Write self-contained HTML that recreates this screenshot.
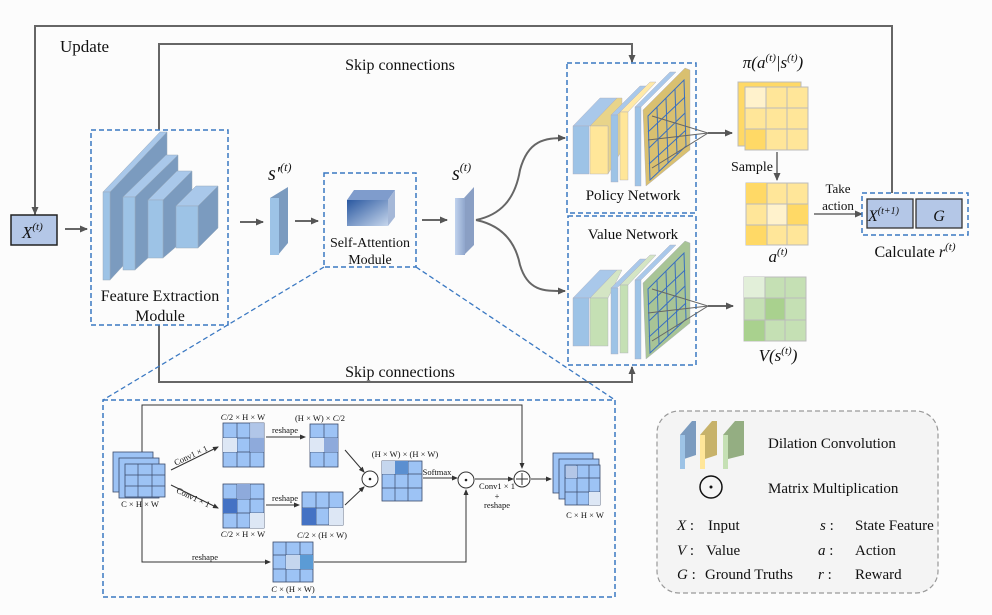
<!DOCTYPE html>
<html><head><meta charset="utf-8"><style>
body{margin:0;background:#fff}
svg{display:block}
text{font-family:"Liberation Serif",serif;fill:#111}
.i{font-style:italic}
</style></head><body>
<svg width="992" height="615" viewBox="0 0 992 615" xmlns="http://www.w3.org/2000/svg">
<defs>
<marker id="a" markerWidth="8" markerHeight="8" refX="7" refY="4" orient="auto" markerUnits="userSpaceOnUse"><path d="M0,0.5 L8,4 L0,7.5 z" fill="#555"/></marker>
<marker id="b" markerWidth="6" markerHeight="6" refX="5" refY="3" orient="auto" markerUnits="userSpaceOnUse"><path d="M0,0.5 L6,3 L0,5.5 z" fill="#333"/></marker>
<linearGradient id="cube" x1="0" y1="0" x2="1" y2="1"><stop offset="0" stop-color="#2a58a0"/><stop offset="1" stop-color="#c6d6ec"/></linearGradient>
<linearGradient id="sl" x1="0" y1="0" x2="1" y2="0"><stop offset="0" stop-color="#c0d2ee"/><stop offset="1" stop-color="#8fa6cc"/></linearGradient>
</defs>
<rect width="992" height="615" fill="#fcfcfc"/>

<polyline points="35,215 35,26 892,26 892,193" fill="none" stroke="#666" stroke-width="2"/>
<line x1="35" y1="40" x2="35" y2="214" stroke="#666" stroke-width="2" marker-end="url(#a)"/>
<text x="60" y="52" font-size="17">Update</text>

<polyline points="159,130 159,44 632,44 632,62" fill="none" stroke="#666" stroke-width="2" marker-end="url(#a)"/>
<text x="400" y="70" font-size="16" text-anchor="middle">Skip connections</text>
<polyline points="159,325 159,382 632,382 632,367" fill="none" stroke="#666" stroke-width="2" marker-end="url(#a)"/>
<text x="400" y="377" font-size="16" text-anchor="middle">Skip connections</text>

<rect x="11" y="215" width="46" height="30" fill="#b4c7e7" stroke="#222" stroke-width="1.5"/>
<text x="22" y="238" font-size="17" class="i">X<tspan font-size="11" dy="-8">(t)</tspan></text>
<line x1="65" y1="229" x2="87" y2="229" stroke="#666" stroke-width="2" marker-end="url(#a)"/>

<rect x="91" y="130" width="137" height="195" fill="none" stroke="#3a78c2" stroke-width="1.5" stroke-dasharray="5,3"/>
<g stroke="#9ab" stroke-width="0.5">
<polygon points="110,192 167,132 167,218 110,280" fill="#7b9bbf"/>
<polygon points="103,192 160,132 167,132 110,192" fill="#a9c8ea"/>
<rect x="103" y="192" width="7" height="88" fill="#9dc3e6"/>
<polygon points="135,197 178,155 178,230 135,270" fill="#7b9bbf"/>
<polygon points="123,197 166,155 178,155 135,197" fill="#a9c8ea"/>
<rect x="123" y="197" width="12" height="73" fill="#9dc3e6"/>
<polygon points="163,200 192,171 192,233 163,258" fill="#7b9bbf"/>
<polygon points="148,200 177,171 192,171 163,200" fill="#a9c8ea"/>
<rect x="148" y="200" width="15" height="58" fill="#9dc3e6"/>
<polygon points="198,206 218,186 218,228 198,248" fill="#7b9bbf"/>
<polygon points="176,206 196,186 218,186 198,206" fill="#a9c8ea"/>
<rect x="176" y="206" width="22" height="42" fill="#9dc3e6"/>
</g>
<text x="160" y="301" font-size="16" text-anchor="middle">Feature Extraction</text>
<text x="160" y="321" font-size="16" text-anchor="middle">Module</text>

<line x1="240" y1="222" x2="263" y2="222" stroke="#666" stroke-width="2" marker-end="url(#a)"/>
<polygon points="270,198 288,187 288,243 278,255" fill="#7b9bbf"/>
<rect x="270" y="198" width="9" height="57" fill="#9dc3e6"/>
<text x="268" y="180" font-size="20" class="i">s′<tspan font-size="12" dy="-9">(t)</tspan></text>
<line x1="295" y1="221" x2="318" y2="221" stroke="#666" stroke-width="2" marker-end="url(#a)"/>

<rect x="324" y="173" width="92" height="94" fill="none" stroke="#3a78c2" stroke-width="1.5" stroke-dasharray="5,3"/>
<polygon points="347,200 354,190 395,190 388,200" fill="#7f9ccc"/>
<polygon points="388,200 395,190 395,217 388,226" fill="#a5b8d8"/>
<rect x="347" y="200" width="41" height="26" fill="url(#cube)"/>
<text x="370" y="247" font-size="14" text-anchor="middle">Self-Attention</text>
<text x="370" y="264" font-size="14" text-anchor="middle">Module</text>
<line x1="422" y1="220" x2="447" y2="220" stroke="#666" stroke-width="2" marker-end="url(#a)"/>

<polygon points="464,198 474,187 474,245 464,255" fill="#8a9fc4"/>
<rect x="455" y="198" width="10" height="57" fill="url(#sl)"/>
<text x="452" y="180" font-size="20" class="i">s<tspan font-size="12" dy="-9">(t)</tspan></text>
<path d="M476,220 C500,215 515,200 520,170 C528,140 545,138 565,138" fill="none" stroke="#666" stroke-width="2" marker-end="url(#a)"/>
<path d="M476,220 C500,225 515,240 520,265 C528,292 545,291 565,291" fill="none" stroke="#666" stroke-width="2" marker-end="url(#a)"/>

<line x1="324" y1="267" x2="103" y2="400" stroke="#3a78c2" stroke-width="1.3" stroke-dasharray="5,3"/>
<line x1="416" y1="267" x2="615" y2="400" stroke="#3a78c2" stroke-width="1.3" stroke-dasharray="5,3"/>

<rect x="567" y="63" width="129" height="150" fill="none" stroke="#3a78c2" stroke-width="1.5" stroke-dasharray="5,3"/>
<g stroke="#aab" stroke-width="0.4">
<polygon points="573,126 600,98 617,98 590,126" fill="#a9c8ea"/><rect x="573" y="126" width="16" height="48" fill="#9dc3e6"/>
<polygon points="590,126 617,98 622,98 622,150 608,174 608,126" fill="#e8d48a"/><rect x="590" y="126" width="18" height="48" fill="#ffe699"/>
<polygon points="611,115 640,86 646,86 617,115" fill="#a9c8ea"/><rect x="611" y="115" width="7" height="67" fill="#9dc3e6"/>
<polygon points="620,112 650,82 656,82 628,112" fill="#ffe9a8"/><rect x="620" y="112" width="8" height="68" fill="#ffe699"/>
<polygon points="635,107 670,72 676,72 641,107" fill="#a9c8ea"/><rect x="635" y="107" width="6" height="79" fill="#9dc3e6"/>
<polygon points="643,110 685,68 690,70 690,150 646,186" fill="#d9c070"/>
</g>
<g stroke="#3a6fc0" stroke-width="1" fill="none">
<polygon points="648,116 684,80 686,146 650,180"/>
<line x1="657" y1="107" x2="659" y2="171"/><line x1="666" y1="98" x2="668" y2="163"/><line x1="675" y1="89" x2="677" y2="154"/>
<line x1="648" y1="132" x2="685" y2="97"/><line x1="649" y1="148" x2="685" y2="113"/><line x1="649" y1="164" x2="686" y2="130"/>
</g>
<polyline points="652,116 708,133 652,168" fill="none" stroke="#666" stroke-width="1"/>
<line x1="648" y1="140" x2="708" y2="133" stroke="#666" stroke-width="1"/>
<line x1="708" y1="133" x2="732" y2="133" stroke="#666" stroke-width="2" marker-end="url(#a)"/>
<text x="633" y="200" font-size="15" text-anchor="middle">Policy Network</text>

<rect x="568" y="216" width="128" height="149" fill="none" stroke="#3a78c2" stroke-width="1.5" stroke-dasharray="5,3"/>
<text x="633" y="239" font-size="15" text-anchor="middle">Value Network</text>
<g stroke="#aab" stroke-width="0.4">
<polygon points="573,298 600,270 617,270 590,298" fill="#a9c8ea"/><rect x="573" y="298" width="16" height="48" fill="#9dc3e6"/>
<polygon points="590,298 617,270 622,270 608,298" fill="#d4e5c4"/><rect x="590" y="298" width="18" height="48" fill="#c5e0b4"/>
<polygon points="611,288 640,259 646,259 617,288" fill="#a9c8ea"/><rect x="611" y="288" width="7" height="66" fill="#9dc3e6"/>
<polygon points="620,285 650,255 656,255 628,285" fill="#d4e5c4"/><rect x="620" y="285" width="8" height="68" fill="#c5e0b4"/>
<polygon points="635,280 670,245 676,245 641,280" fill="#a9c8ea"/><rect x="635" y="280" width="6" height="79" fill="#9dc3e6"/>
<polygon points="643,283 685,241 690,243 690,323 646,359" fill="#a8c496"/>
</g>
<g stroke="#3a6fc0" stroke-width="1" fill="none">
<polygon points="648,289 684,253 686,319 650,353"/>
<line x1="657" y1="280" x2="659" y2="344"/><line x1="666" y1="271" x2="668" y2="336"/><line x1="675" y1="262" x2="677" y2="327"/>
<line x1="648" y1="305" x2="685" y2="270"/><line x1="649" y1="321" x2="685" y2="286"/><line x1="649" y1="337" x2="686" y2="303"/>
</g>
<polyline points="652,289 708,306 652,341" fill="none" stroke="#666" stroke-width="1"/>
<line x1="648" y1="313" x2="708" y2="306" stroke="#666" stroke-width="1"/>
<line x1="708" y1="306" x2="733" y2="306" stroke="#666" stroke-width="2" marker-end="url(#a)"/>

<text x="773" y="68" font-size="17" text-anchor="middle" class="i">π(a<tspan font-size="11" dy="-7">(t)</tspan><tspan dy="7">|s</tspan><tspan font-size="11" dy="-7">(t)</tspan><tspan dy="7">)</tspan></text>
<rect x="738" y="82" width="63" height="64" fill="#ffd966" stroke="#bbb"/>
<rect x="745" y="87" width="63" height="63" fill="#ffe699" stroke="#bbb"/>
<g stroke="#bbb" fill="none"><line x1="766" y1="87" x2="766" y2="150"/><line x1="787" y1="87" x2="787" y2="150"/><line x1="745" y1="108" x2="808" y2="108"/><line x1="745" y1="129" x2="808" y2="129"/></g>
<rect x="745.5" y="87.5" width="20" height="20" fill="#fff2cc"/>
<rect x="745.5" y="129.5" width="20" height="20" fill="#ffd966"/>
<text x="752" y="171" font-size="14" text-anchor="middle">Sample</text>
<line x1="777" y1="152" x2="777" y2="180" stroke="#666" stroke-width="1.5" marker-end="url(#a)"/>
<rect x="746" y="183" width="62" height="62" fill="#ffe699" stroke="#bbb"/>
<rect x="746" y="183" width="21" height="21" fill="#ffd966"/>
<rect x="767" y="204" width="20" height="21" fill="#fff2cc"/>
<rect x="787" y="204" width="21" height="21" fill="#ffd966"/>
<rect x="746" y="225" width="21" height="20" fill="#ffd966"/>
<g stroke="#bbb" fill="none"><line x1="767" y1="183" x2="767" y2="245"/><line x1="787" y1="183" x2="787" y2="245"/><line x1="746" y1="204" x2="808" y2="204"/><line x1="746" y1="225" x2="808" y2="225"/></g>
<text x="778" y="262" font-size="17" text-anchor="middle" class="i">a<tspan font-size="11" dy="-7">(t)</tspan></text>
<text x="838" y="193" font-size="13" text-anchor="middle">Take</text>
<text x="838" y="210" font-size="13" text-anchor="middle">action</text>
<line x1="814" y1="214" x2="862" y2="214" stroke="#666" stroke-width="1.5" marker-end="url(#a)"/>
<rect x="862" y="193" width="106" height="42" fill="none" stroke="#3a78c2" stroke-width="1.5" stroke-dasharray="5,3"/>
<rect x="867" y="199" width="46" height="29" fill="#b4c7e7" stroke="#333" stroke-width="1.3"/>
<rect x="916" y="199" width="46" height="29" fill="#b4c7e7" stroke="#333" stroke-width="1.3"/>
<text x="868" y="221" font-size="16" class="i">X<tspan font-size="10" dy="-7">(t+1)</tspan></text>
<text x="939" y="221" font-size="16" class="i" text-anchor="middle">G</text>
<text x="915" y="257" font-size="16" text-anchor="middle">Calculate <tspan class="i">r</tspan><tspan font-size="11" dy="-7" class="i">(t)</tspan></text>
<rect x="744" y="277" width="62" height="64" fill="#c5e0b4" stroke="#bbb"/>
<rect x="744" y="277" width="21" height="21" fill="#e2efd9"/>
<rect x="765" y="298" width="20" height="22" fill="#a9d18e"/>
<rect x="744" y="320" width="21" height="21" fill="#a9d18e"/>
<g stroke="#bbb" fill="none"><line x1="765" y1="277" x2="765" y2="341"/><line x1="785" y1="277" x2="785" y2="341"/><line x1="744" y1="298" x2="806" y2="298"/><line x1="744" y1="320" x2="806" y2="320"/></g>
<text x="778" y="361" font-size="17" text-anchor="middle" class="i">V(s<tspan font-size="11" dy="-7">(t)</tspan><tspan dy="7">)</tspan></text>

<rect x="103" y="400" width="512" height="197" fill="none" stroke="#3a78c2" stroke-width="1.5" stroke-dasharray="5,3"/>
<g stroke="#333" stroke-width="1" fill="none">
<polyline points="142,452 142,405 522,405 522,468" marker-end="url(#b)"/>
<polyline points="142,495 142,562 270,562" marker-end="url(#b)"/>
<polyline points="314,562 466,562 466,490" marker-end="url(#b)"/>
<line x1="171" y1="470" x2="218" y2="447" marker-end="url(#b)"/>
<line x1="171" y1="485" x2="218" y2="508" marker-end="url(#b)"/>
<line x1="266" y1="437" x2="305" y2="437" marker-end="url(#b)"/>
<line x1="266" y1="505" x2="299" y2="505" marker-end="url(#b)"/>
<line x1="345" y1="450" x2="364" y2="472" marker-end="url(#b)"/>
<line x1="345" y1="505" x2="364" y2="487" marker-end="url(#b)"/>
<line x1="423" y1="478" x2="457" y2="478" marker-end="url(#b)"/>
<line x1="475" y1="479" x2="513" y2="479" marker-end="url(#b)"/>
<line x1="531" y1="479" x2="551" y2="479" marker-end="url(#b)"/>
</g>
<g fill="#9dc3f5" stroke="#3a4a6a" stroke-width="0.8">
<rect x="113" y="452" width="40" height="40"/><rect x="119" y="458" width="40" height="40"/><rect x="125" y="464" width="40" height="33"/>
<rect x="223" y="423" width="41" height="44"/><rect x="223" y="484" width="41" height="44"/>
<rect x="310" y="424" width="28" height="43"/><rect x="302" y="492" width="41" height="33"/>
<rect x="382" y="461" width="40" height="40"/><rect x="273" y="542" width="40" height="40"/>
<rect x="553" y="453" width="40" height="40"/><rect x="559" y="459" width="40" height="40"/><rect x="565" y="465" width="35" height="40"/>
</g>
<g fill="none" stroke="#3a4a6a" stroke-width="0.7">
<path d="M138,464 V497 M152,464 V497 M125,475 H165 M125,486 H165"/>
<path d="M237,423 V467 M250,423 V467 M223,438 H264 M223,452 H264"/>
<path d="M237,484 V528 M250,484 V528 M223,499 H264 M223,513 H264"/>
<path d="M324,424 V467 M310,438 H338 M310,452 H338"/>
<path d="M316,492 V525 M329,492 V525 M302,508 H343"/>
<path d="M395,461 V501 M408,461 V501 M382,474 H422 M382,488 H422"/>
<path d="M286,542 V582 M300,542 V582 M273,555 H313 M273,569 H313"/>
<path d="M577,465 V505 M589,465 V505 M565,478 H600 M565,492 H600"/>
</g>
<rect x="250" y="423" width="14" height="15" fill="#b4c7e7" opacity=".9"/>
<rect x="223" y="438" width="14" height="14" fill="#dde7f5"/>
<rect x="250" y="438" width="14" height="14" fill="#8eaadb"/>
<rect x="223" y="499" width="14" height="14" fill="#4472c4"/>
<rect x="237" y="484" width="13" height="15" fill="#8eaadb"/>
<rect x="250" y="513" width="14" height="15" fill="#dde7f5"/>
<rect x="324" y="438" width="14" height="14" fill="#8eaadb"/><rect x="310" y="438" width="14" height="14" fill="#dde7f5"/>
<rect x="302" y="508" width="14" height="17" fill="#4472c4"/><rect x="329" y="508" width="14" height="17" fill="#dde7f5"/>
<rect x="395" y="461" width="13" height="13" fill="#5b8fd0"/><rect x="382" y="461" width="13" height="13" fill="#c5d6ee"/>
<rect x="300" y="555" width="13" height="14" fill="#5b9bd5"/><rect x="286" y="555" width="14" height="14" fill="#c5d6ee"/>
<rect x="566" y="466" width="11" height="12" fill="#b4c7e7"/><rect x="589" y="492" width="11" height="13" fill="#dde7f5"/>
<g font-size="8.5" text-anchor="middle">
<text x="140" y="507">C × H × W</text>
<text x="243" y="420"><tspan class="i">C</tspan>/2 × H × W</text>
<text x="243" y="537"><tspan class="i">C</tspan>/2 × H × W</text>
<text x="320" y="421">(H × W) × <tspan class="i">C</tspan>/2</text>
<text x="322" y="538"><tspan class="i">C</tspan>/2 × (H × W)</text>
<text x="405" y="457">(H × W) × (H × W)</text>
<text x="285" y="433">reshape</text>
<text x="285" y="501">reshape</text>
<text x="205" y="560">reshape</text>
<text x="437" y="475">Softmax</text>
<text x="497" y="489">Conv1 × 1</text>
<text x="497" y="499">+</text>
<text x="497" y="508">reshape</text>
<text x="293" y="592"><tspan class="i">C</tspan> × (H × W)</text>
<text x="585" y="518">C × H × W</text>
<text x="192" y="458" transform="rotate(-25 192 458)">Conv1 × 1</text>
<text x="192" y="500" transform="rotate(25 192 500)">Conv1 × 1</text>
</g>
<circle cx="370" cy="479" r="8" fill="#fff" stroke="#333"/><circle cx="370" cy="479" r="1.3" fill="#222"/>
<circle cx="466" cy="480" r="8" fill="#fff" stroke="#333"/><circle cx="466" cy="480" r="1.3" fill="#222"/>
<circle cx="522" cy="479" r="8" fill="#fff" stroke="#333"/><path d="M516,479 H528 M522,473 V485" stroke="#333"/>

<rect x="657" y="411" width="281" height="182" rx="22" fill="#f4f4f4" stroke="#999" stroke-width="1.2" stroke-dasharray="5,3"/>
<polygon points="680,435 692,421 696,421 696,455 684,459 680,459" fill="#7b9bbf"/><rect x="680" y="435" width="5" height="34" fill="#9dc3e6"/>
<polygon points="700,435 712,421 717,421 717,455 705,459 700,459" fill="#c7b26a"/><rect x="700" y="435" width="5" height="34" fill="#ffe699"/>
<polygon points="723,435 735,421 744,421 744,455 728,459 723,459" fill="#94ae82"/><rect x="723" y="435" width="5" height="34" fill="#c5e0b4"/>
<text x="768" y="448" font-size="15">Dilation Convolution</text>
<circle cx="711" cy="487" r="11" fill="none" stroke="#111" stroke-width="1.5"/><circle cx="711" cy="487" r="1.5" fill="#111"/>
<text x="768" y="493" font-size="15">Matrix Multiplication</text>
<g font-size="15">
<text x="677" y="530"><tspan class="i">X</tspan> :</text><text x="708" y="530">Input</text>
<text x="677" y="555"><tspan class="i">V</tspan> :</text><text x="706" y="555">Value</text>
<text x="677" y="579"><tspan class="i">G</tspan> :</text><text x="705" y="579">Ground Truths</text>
<text x="820" y="530"><tspan class="i">s</tspan> :</text><text x="855" y="530">State Feature</text>
<text x="818" y="555"><tspan class="i">a</tspan> :</text><text x="855" y="555">Action</text>
<text x="818" y="579"><tspan class="i">r</tspan> :</text><text x="855" y="579">Reward</text>
</g>
</svg>
</body></html>
